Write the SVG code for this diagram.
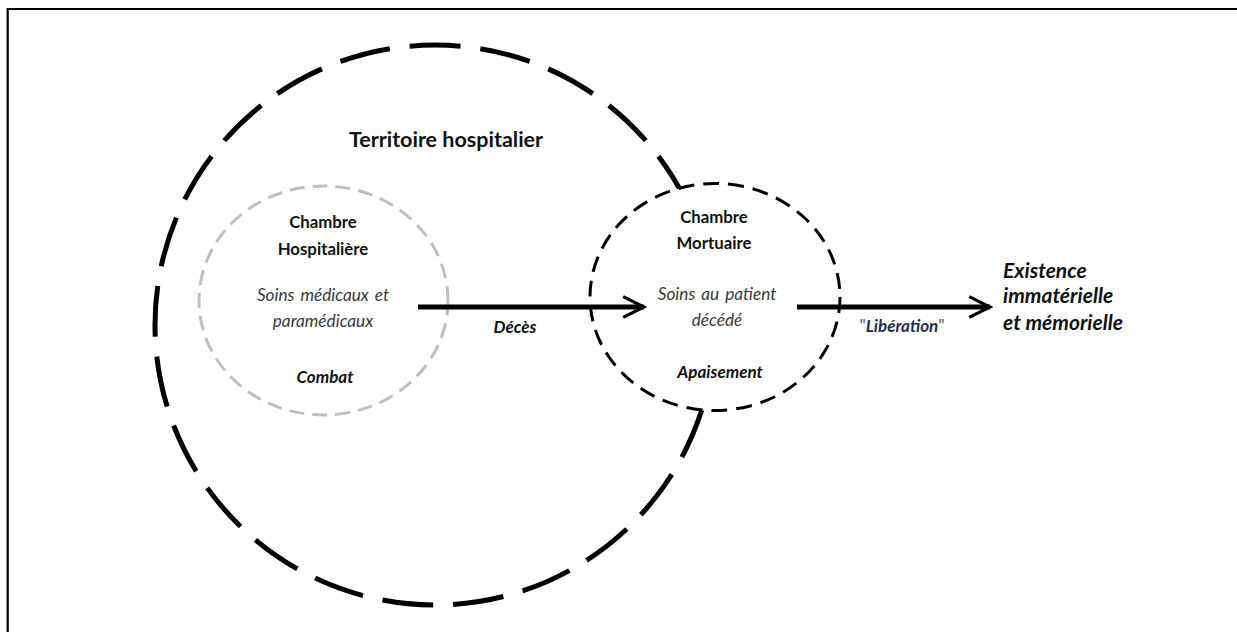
<svg xmlns="http://www.w3.org/2000/svg" width="1237" height="632" viewBox="0 0 1237 632">
<style>
text{font-family:Lato,"Liberation Sans",sans-serif;fill:#111;text-anchor:middle}
.b{font-weight:bold;font-size:16.8px}
.i{font-style:italic;fill:#3a3a3a;font-size:17.2px;word-spacing:2px}
.bi{font-weight:bold;font-style:italic;font-size:17px}
.big{font-weight:bold;font-size:21.5px}
.ex{font-weight:bold;font-style:italic;font-size:21px;text-anchor:start}
.conn{stroke:#000;stroke-width:5;fill:none}
</style>
<defs>
<marker id="chev" viewBox="0 0 10 10" refX="9" refY="5" markerWidth="5.2" markerHeight="6" orient="auto" markerUnits="strokeWidth">
<path d="M1,1 L9,5 L1,9" fill="none" stroke="#000" stroke-width="1.2"/>
</marker>
</defs>
<rect width="1237" height="632" fill="#fff"/>
<path d="M7.7,640 V9 H1240" fill="none" stroke="#000" stroke-width="2.2"/>
<g id="territoire">
<circle cx="435" cy="325" r="280" fill="none" stroke="#000" stroke-width="5" stroke-dasharray="51 20" stroke-dashoffset="55.5"/>
<text class="big" x="446" y="147">Territoire hospitalier</text>
</g>
<g id="chambre-hospitaliere">
<ellipse cx="323.5" cy="300.5" rx="124.5" ry="114.5" fill="none" stroke="#bfbfbf" stroke-width="3" stroke-dasharray="15 8"/>
<text class="b" x="323" y="228">Chambre</text>
<text class="b" x="323" y="255">Hospitalière</text>
<text class="i" x="323" y="301">Soins médicaux et</text>
<text class="i" x="323" y="327">paramédicaux</text>
<text class="bi" x="325" y="383">Combat</text>
</g>
<g id="chambre-mortuaire">
<ellipse cx="715" cy="297" rx="125" ry="113.5" fill="#fff" stroke="#000" stroke-width="3" stroke-dasharray="16 9"/>
<text class="b" x="714" y="223">Chambre</text>
<text class="b" x="714" y="249">Mortuaire</text>
<text class="i" x="717" y="300">Soins au patient</text>
<text class="i" x="717" y="326">décédé</text>
<text class="bi" x="720" y="378">Apaisement</text>
</g>
<g id="existence">
<text class="ex" x="1003" y="278">Existence</text>
<text class="ex" x="1003" y="303">immatérielle</text>
<text class="ex" x="1003" y="330">et mémorielle</text>
</g>
<g id="connectors">
<line class="conn" x1="418" y1="307" x2="644" y2="307" marker-end="url(#chev)"/>
<line class="conn" x1="797" y1="307" x2="990" y2="307" marker-end="url(#chev)"/>
<text class="bi" x="515" y="333">Décès</text>
<text x="902" y="332" style="font-size:17px"><tspan fill="#555">"</tspan><tspan class="bi" style="fill:#1f2d4d">Libération</tspan><tspan fill="#555">"</tspan></text>
</g>
</svg>
